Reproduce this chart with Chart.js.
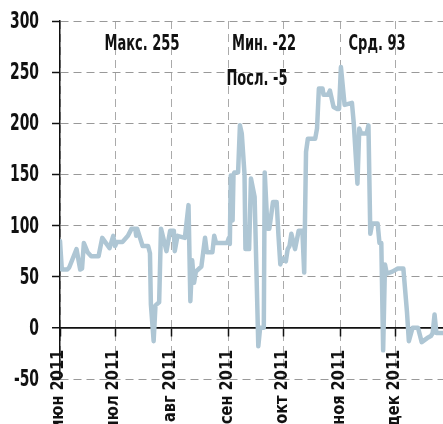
<!DOCTYPE html>
<html lang="ru">
  <head>
    <meta charset="UTF-8" />
    <title>График</title>
    <script src="https://cdn.jsdelivr.net/npm/chart.js"></script>
    <style>
      html, body { margin: 0; padding: 0; background: #fff; }
      .wrap { position: relative; width: 443px; height: 424px; }
    </style>
  </head>
  <body>
    <div class="wrap">
      <canvas id="chart"></canvas>
    </div>

    <script>
      // Данные (дни от 1 июня 2011)
      const dayOffsets = [
        0, 1, 4, 5, 9, 11, 12, 13, 15, 17, 21, 23, 27, 29, 30, 31, 34, 37, 39, 41,
        41.5, 42, 45, 48, 49, 49.5, 51, 52, 54, 55, 58, 60, 62, 62.5, 64, 68, 70, 71,
        72, 73, 74, 77, 79, 80, 83, 84, 85, 91, 92, 92.5, 93, 94, 94.5, 95, 97, 98,
        99, 100.5, 101, 103, 104, 106, 108, 109, 111, 111.5, 113, 114, 116, 118, 119,
        120, 121, 123, 124, 125, 126, 128, 130, 132, 133, 134, 135, 139, 140, 141, 143,
        143.5, 146, 147, 149, 151, 152, 153, 155, 159, 160, 162, 163, 164, 167, 168,
        169, 170, 173, 174, 175, 176, 177, 178, 181, 184, 187, 189, 190, 192, 195, 197,
        200, 202, 203, 204, 205, 209
      ];
      const values = [
        85, 57, 57, 59, 77, 57, 58, 83, 74, 70, 70, 88, 78, 90, 80, 84, 84, 90, 97, 97,
        90, 97, 80, 80, 73, 23, -13, 22, 25, 97, 75, 95, 95, 75, 90, 88, 120, 26,
        66, 44, 55, 60, 88, 74, 74, 90, 83, 83, 88, 82, 149, 105, 150, 152, 152, 198,
        190, 150, 77, 77, 146, 128, -18, 0, 0, 152, 97, 97, 123, 123, 90,
        62, 68, 65, 77, 80, 92, 77, 95, 95, 54, 172, 185, 185, 195, 234, 234,
        228, 228, 232, 216, 214, 214, 255, 218, 220, 200, 141, 195, 190, 190, 198,
        92, 102, 102, 83, 83, -22, 62, 53, 55, 58, 58, 15, -13, 0, 0, -14,
        -10, -8, -5, 13, -5, -5
      ];
      const monthStarts = [0, 30, 61, 92, 122, 153, 183];
      const monthLabels = ["июн 2011", "июл 2011", "авг 2011", "сен 2011", "окт 2011", "ноя 2011", "дек 2011"];
      const yTicks = [-50, 0, 50, 100, 150, 200, 250, 300];
      const statLabels = ["Макс. 255", "Мин. -22", "Срд. 93", "Посл. -5"];

      const FONT = "'DejaVu Sans Condensed', 'DejaVu Sans', sans-serif";
      Chart.defaults.font.family = FONT;
      Chart.defaults.color = "#111";

      // узкий текст: шрифт сжимается по горизонтали
      function narrowText(ctx, text, x, y, sx, align, rot) {
        ctx.save();
        ctx.translate(x, y);
        if (rot) ctx.rotate(rot);
        ctx.scale(sx, 1);
        ctx.textAlign = align;
        ctx.fillText(text, 0, 0);
        ctx.restore();
      }

      // подписи осей и статистики
      const labelsPlugin = {
        id: "labels",
        afterDraw(chart) {
          const ctx = chart.ctx;
          const xs = chart.scales.x;
          const ys = chart.scales.y;
          ctx.save();
          ctx.fillStyle = "#111";

          // ось Y
          ctx.font = "bold 23px " + FONT;
          ctx.textBaseline = "middle";
          const syY = 29 / ctx.measureText("300").width;
          ys.ticks.forEach((t) => {
            narrowText(ctx, String(t.value), 39, ys.getPixelForValue(t.value) + 1, syY, "right", 0);
          });

          // ось X (повёрнутые подписи)
          ctx.font = "bold 18px " + FONT;
          ctx.textBaseline = "middle";
          const sxX = 80 / ctx.measureText(monthLabels[0]).width;
          const y0 = ys.getPixelForValue(0);
          xs.ticks.forEach((t) => {
            const i = monthStarts.indexOf(t.value);
            narrowText(ctx, monthLabels[i], xs.getPixelForValue(t.value) - 2, y0 + 22, sxX, "right", -Math.PI / 2);
          });

          // статистика
          ctx.font = "bold 21px " + FONT;
          ctx.textBaseline = "alphabetic";
          const sxS = 75 / ctx.measureText(statLabels[0]).width;
          narrowText(ctx, statLabels[0], 142, 50, sxS, "center", 0);
          narrowText(ctx, statLabels[1], 264, 50, sxS, "center", 0);
          narrowText(ctx, statLabels[2], 377, 50, sxS, "center", 0);
          narrowText(ctx, statLabels[3], 257, 85, sxS, "center", 0);
          ctx.restore();
        },
      };

      new Chart(document.getElementById("chart"), {
        type: "line",
        data: {
          datasets: [
            {
              data: dayOffsets.map((d, i) => ({ x: d, y: values[i] })),
              borderColor: "#aec6d4",
              borderWidth: 4.5,
              borderJoinStyle: "round",
              borderCapStyle: "round",
              pointRadius: 0,
              tension: 0,
              fill: false,
            },
          ],
        },
        options: {
          responsive: true,
          maintainAspectRatio: false,
          animation: false,
          layout: { padding: { left: 0, top: 21, right: 0, bottom: 45 } },
          plugins: {
            legend: { display: false },
            tooltip: { enabled: false },
          },
          scales: {
            x: {
              type: "linear",
              position: { y: 0 },
              min: 0,
              max: 208.6,
              afterBuildTicks: (axis) => {
                axis.ticks = monthStarts.map((v) => ({ value: v }));
              },
              ticks: { display: false },
              grid: {
                color: "#aaa",
                lineWidth: 1,
                tickLength: 8,
                tickColor: "#111",
                tickWidth: 1.5,
                tickBorderDash: [],
              },
              border: { display: true, color: "#111", width: 1.5, dash: [8, 5] },
            },
            y: {
              min: -50,
              max: 300,
              afterBuildTicks: (axis) => {
                axis.ticks = yTicks.map((v) => ({ value: v }));
              },
              afterFit: (scale) => {
                scale.width = 60;
              },
              ticks: { display: false },
              grid: {
                color: (c) => (c.tick && c.tick.value === 0 ? "#111" : "#999"),
                lineWidth: (c) => (c.tick && c.tick.value === 0 ? 1.5 : 1),
                tickLength: 8,
                tickColor: "#111",
                tickWidth: 1.5,
                tickBorderDash: [],
              },
              border: {
                display: true,
                color: "#111",
                width: 1.5,
                dash: (c) => (c.tick && c.tick.value === 0 ? [] : [8, 5]),
              },
            },
          },
        },
        plugins: [labelsPlugin],
      });
    </script>
  </body>
</html>
